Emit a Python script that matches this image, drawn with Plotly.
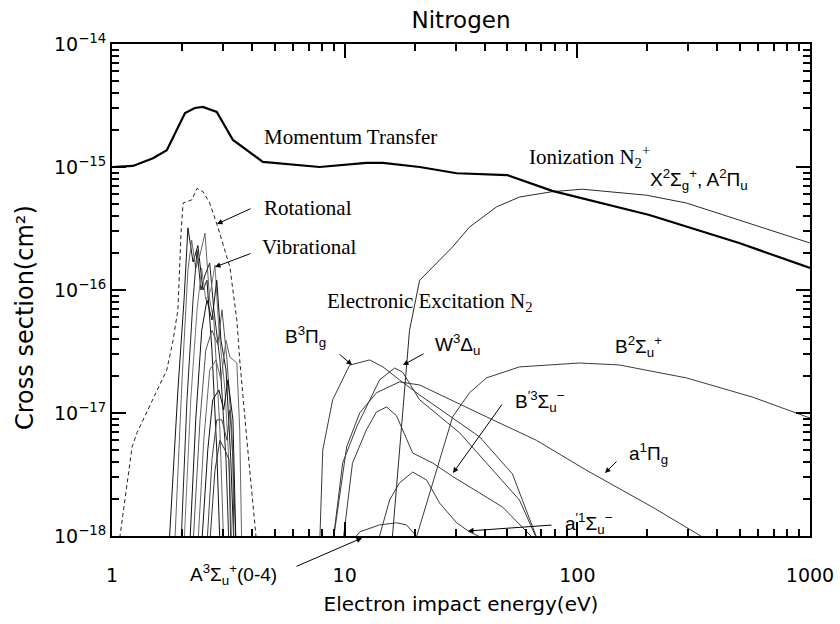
import plotly.graph_objects as go

# ---------------- data (energy in eV, cross section in cm^2) ----------------
mt_E = [1.0, 1.23, 1.5, 1.72, 2.06, 2.27, 2.46, 2.82, 3.31, 4.45, 7.8, 12.4, 14.6, 21.0, 30.3, 50.0, 78.0, 204.0, 496.0, 1000.0]
mt_sigma = [1.0e-15, 1.02e-15, 1.18e-15, 1.37e-15, 2.75e-15, 3.02e-15, 3.08e-15, 2.8e-15, 1.66e-15, 1.1e-15,
            1.0e-15, 1.08e-15, 1.08e-15, 1.0e-15, 8.9e-16, 8.6e-16, 6.4e-16, 4.07e-16, 2.41e-16, 1.51e-16]

rot_E = [1.07, 1.22, 1.28, 1.72, 1.83, 1.92, 1.98, 2.02, 2.20, 2.32, 2.46, 2.63, 2.85, 3.21, 3.44, 3.54, 3.80, 4.19]
rot_sigma = [8.5e-19, 5.3e-18, 6.9e-18, 2.24e-17, 3.9e-17, 6.9e-17, 2.9e-16, 5.1e-16, 5.4e-16, 6.7e-16,
             6.3e-16, 5.1e-16, 3.25e-16, 1.54e-16, 5.7e-17, 2.7e-17, 6.0e-18, 8.5e-19]

vib_E = [
    [1.76, 1.92, 2.04, 2.12, 2.23, 2.34, 2.46, 2.56, 2.69, 2.82, 2.91],
    [1.86, 2.00, 2.12, 2.20, 2.29, 2.39, 2.51, 2.63, 2.74, 2.91, 3.02],
    [1.98, 2.10, 2.23, 2.32, 2.41, 2.51, 2.63, 2.74, 2.91, 3.09, 3.18],
    [2.04, 2.18, 2.32, 2.43, 2.53, 2.66, 2.77, 2.88, 3.06, 3.21, 3.27],
    [2.16, 2.29, 2.43, 2.56, 2.69, 2.82, 2.94, 3.09, 3.24, 3.34],
    [2.23, 2.39, 2.53, 2.69, 2.85, 2.97, 3.12, 3.27, 3.41],
    [2.34, 2.48, 2.63, 2.80, 2.94, 3.09, 3.21, 3.44, 3.54, 3.61],
    [2.43, 2.58, 2.71, 2.88, 3.02, 3.15, 3.31, 3.41],
    [2.56, 2.69, 2.82, 2.97, 3.12, 3.21, 3.31, 3.34],
    [2.63, 2.77, 2.91, 3.06, 3.18, 3.24],
]
vib_sigma = [
    [8.5e-19, 1.54e-17, 8.3e-17, 3.2e-16, 1.69e-16, 2.3e-16, 1.0e-16, 1.2e-16, 3.2e-17, 5.0e-18, 8.5e-19],
    [8.5e-19, 1.86e-17, 1.45e-16, 2.55e-16, 1.5e-16, 1.93e-16, 2.9e-16, 8.3e-17, 5.7e-17, 7.3e-18, 8.5e-19],
    [8.5e-19, 1.28e-17, 8.3e-17, 2.1e-16, 1.0e-16, 1.32e-16, 1.66e-16, 6.9e-17, 2.7e-17, 4.2e-18, 8.5e-19],
    [8.5e-19, 1.28e-17, 6.9e-17, 1.5e-16, 8.3e-17, 1.0e-16, 1.6e-16, 4.7e-17, 1.54e-17, 2.85e-18, 8.5e-19],
    [8.5e-19, 8.8e-18, 4.7e-17, 8.3e-17, 5.7e-17, 1.2e-16, 3.9e-17, 2.24e-17, 4.2e-18, 8.5e-19],
    [8.5e-19, 8.8e-18, 3.25e-17, 4.7e-17, 3.6e-17, 6.9e-17, 2.7e-17, 7.3e-18, 8.5e-19],
    [8.5e-19, 6.0e-18, 2.24e-17, 2.7e-17, 1.86e-17, 3.9e-17, 2.85e-17, 2.55e-17, 7.3e-18, 8.5e-19],
    [8.5e-19, 5.0e-18, 1.28e-17, 1.54e-17, 1.06e-17, 1.86e-17, 8.8e-18, 8.5e-19],
    [8.5e-19, 4.2e-18, 8.8e-18, 8.8e-18, 6.0e-18, 1.06e-17, 4.2e-18, 8.5e-19],
    [8.5e-19, 3.4e-18, 6.0e-18, 5.0e-18, 4.2e-18, 8.5e-19],
]

ion_E = [15.8, 17.6, 19.0, 21.0, 29.1, 34.4, 44.9, 56.4, 78.0, 105.0, 198.0, 294.0, 496.0, 1000.0]
ion_sigma = [7.0e-19, 8.8e-18, 4.7e-17, 1.2e-16, 2.24e-16, 3.25e-16, 4.73e-16, 5.7e-16, 6.3e-16, 6.6e-16,
             5.9e-16, 5.1e-16, 3.7e-16, 2.41e-16]

b2su_E = [19.9, 24.1, 29.1, 34.4, 40.7, 56.4, 102.0, 151.0, 294.0, 564.0, 1000.0]
b2su_sigma = [8.5e-19, 2.85e-18, 9.3e-18, 1.46e-17, 1.93e-17, 2.37e-17, 2.55e-17, 2.46e-17, 1.93e-17, 1.35e-17, 9.1e-18]

b3pg_E = [7.81, 8.05, 8.88, 10.5, 12.8, 14.6, 17.2, 21.0, 38.0, 49.6, 52.6, 68.7]
b3pg_sigma = [8.5e-19, 5.0e-18, 1.28e-17, 2.45e-17, 2.70e-17, 2.37e-17, 1.86e-17, 1.40e-17, 6.4e-18, 3.6e-18, 3.2e-18, 8.5e-19]

w3du_E = [8.88, 9.80, 11.26, 14.13, 16.39, 17.74, 21.0, 31.2, 56.4, 68.7]
w3du_sigma = [8.5e-19, 3.92e-18, 7.7e-18, 1.86e-17, 2.32e-17, 2.15e-17, 1.28e-17, 6.9e-18, 1.96e-18, 8.5e-19]

a1pg_E = [8.88, 10.2, 11.6, 13.7, 17.2, 21.0, 40.7, 66.7, 109.0, 210.0, 380.0]
a1pg_sigma = [8.5e-19, 5.3e-18, 1.0e-17, 1.46e-17, 1.79e-17, 1.69e-17, 9.3e-18, 6.0e-18, 3.44e-18, 1.72e-18, 8.8e-19]

bp3su_E = [9.80, 10.8, 12.4, 13.7, 15.15, 16.7, 19.6, 23.9, 29.1, 47.7, 68.7]
bp3su_sigma = [8.5e-19, 3.9e-18, 7.3e-18, 1.02e-17, 1.12e-17, 9.5e-18, 4.73e-18, 3.92e-18, 3.05e-18, 1.72e-18, 8.5e-19]

ap1su_E = [13.86, 15.6, 17.2, 19.6, 22.5, 25.6, 30.3, 34.4, 40.7]
ap1su_sigma = [8.8e-19, 1.96e-18, 2.70e-18, 3.31e-18, 2.85e-18, 1.85e-18, 1.28e-18, 1.08e-18, 9.3e-19]

a3su_E = [10.5, 11.6, 14.1, 16.7, 18.45, 21.0, 21.6]
a3su_sigma = [8.5e-19, 1.08e-18, 1.23e-18, 1.28e-18, 1.23e-18, 9.3e-19, 8.5e-19]

x_tickvals = [1, 10, 100, 1000]
x_ticktext = ["1", "10", "100", "1000"]
y_tickvals = [1e-18, 1e-17, 1e-16, 1e-15, 1e-14]
y_ticktext = ["10<sup>−18</sup>", "10<sup>−17</sup>", "10<sup>−16</sup>", "10<sup>−15</sup>", "10<sup>−14</sup>"]
x_minor = [m * 10 ** d for d in range(0, 3) for m in range(2, 10)]
y_minor = [m * 10.0 ** d for d in range(-18, -14) for m in range(2, 10)]

# ---------------- figure ----------------
fig = go.Figure()


def add(E, s, color="#333333", width=1.0, dash="solid"):
    fig.add_trace(go.Scatter(x=E, y=s, mode="lines",
                             line=dict(color=color, width=width, dash=dash),
                             showlegend=False, hoverinfo="skip"))


add(rot_E, rot_sigma, color="#222222", width=1.0, dash="4px,3px")
vib_colors = ["#111111", "#666666", "#222222", "#777777", "#111111", "#555555", "#666666", "#111111", "#444444", "#333333"]
for i in range(len(vib_E)):
    add(vib_E[i], vib_sigma[i], color=vib_colors[i], width=1.0)

for E, s in [(b3pg_E, b3pg_sigma), (w3du_E, w3du_sigma), (a1pg_E, a1pg_sigma),
             (bp3su_E, bp3su_sigma), (ap1su_E, ap1su_sigma), (a3su_E, a3su_sigma),
             (b2su_E, b2su_sigma)]:
    add(E, s, color="#3a3a3a", width=1.0)
add(ion_E, ion_sigma, color="#2a2a2a", width=1.0)
add(mt_E, mt_sigma, color="#000000", width=2.2)

# empty trace that activates the overlay axes used for the minor ticks
fig.add_trace(go.Scatter(x=[], y=[], xaxis="x2", yaxis="y2", mode="lines",
                         showlegend=False, hoverinfo="skip"))

# plot area in pixels: x 112..810, y 44..536
L, R, T, B = 112, 810, 44, 536


def px(xp):
    return (xp - L) / (R - L)


def py(yp):
    return (B - yp) / (B - T)


serif = "Liberation Serif"
sans = "Liberation Sans"
labels = [
    ("Momentum Transfer", 262, 137, serif, 21),
    ("Rotational", 262, 208, serif, 21),
    ("Vibrational", 260, 247, serif, 21),
    ("Electronic Excitation N<sub>2</sub>", 325, 302, serif, 21),
    ("Ionization N<sub>2</sub><sup>+</sup>", 527, 157, serif, 21),
    ("X<sup>2</sup>Σ<sub>g</sub><sup>+</sup>, A<sup>2</sup>Π<sub>u</sub>", 648, 180, sans, 19),
    ("B<sup>3</sup>Π<sub>g</sub>", 283, 336, sans, 19),
    ("W<sup>3</sup>Δ<sub>u</sub>", 433, 344, sans, 19),
    ("B<sup>2</sup>Σ<sub>u</sub><sup>+</sup>", 613, 346, sans, 19),
    ("B<sup>′3</sup>Σ<sub>u</sub><sup>−</sup>", 513, 401, sans, 19),
    ("a<sup>1</sup>Π<sub>g</sub>", 627, 453, sans, 19),
    ("a<sup>′1</sup>Σ<sub>u</sub><sup>−</sup>", 563, 523, sans, 19),
    ("A<sup>3</sup>Σ<sub>u</sub><sup>+</sup>(0-4)", 188, 574, sans, 19),
]
annotations = []
for text, x0, y0, fam, size in labels:
    annotations.append(dict(text=text, x=px(x0), y=py(y0), xref="paper", yref="paper",
                            xanchor="left", yanchor="middle", showarrow=False,
                            font=dict(family=fam, size=size, color="black")))

# y-axis title (placed as rotated text, like the reference)
annotations.append(dict(text="Cross section(cm²)", x=px(25), y=py(318), xref="paper", yref="paper",
                        xanchor="center", yanchor="middle", textangle=-90, showarrow=False,
                        font=dict(family="DejaVu Sans", size=24, color="black")))

# arrows: tip (x,y) and tail (x,y) in pixels
arrows = [
    (217, 224, 252, 208),
    (215, 267, 252, 253),
    (352, 365, 338, 353),
    (403, 365, 425, 353),
    (453, 473, 503, 403),
    (605, 473, 618, 460),
    (468, 531, 553, 525),
    (362, 538, 295, 567),
]
for tx, ty, sx, sy in arrows:
    annotations.append(dict(text="", x=px(tx), y=py(ty), xref="paper", yref="paper",
                            ax=sx - tx, ay=sy - ty, axref="pixel", ayref="pixel",
                            showarrow=True, arrowhead=2, arrowsize=1.1, arrowwidth=1,
                            arrowcolor="black"))

tick_font = dict(family="DejaVu Sans", size=19, color="black")
title_font = dict(family="DejaVu Sans", size=20, color="black")
fig.update_layout(
    width=840, height=624,
    margin=dict(l=L, r=840 - R, t=T, b=624 - B, autoexpand=False),
    paper_bgcolor="white", plot_bgcolor="rgba(0,0,0,0)",
    title=dict(text="Nitrogen", x=0.5, xref="paper", xanchor="center",
               y=1 - 20 / 624, yref="container", yanchor="middle",
               font=dict(family="DejaVu Sans", size=23, color="black")),
    annotations=annotations,
    showlegend=False,
    xaxis=dict(
        type="log", range=[0, 3], showgrid=False, zeroline=False,
        showline=True, linecolor="black", linewidth=2, mirror="ticks",
        ticks="inside", ticklen=14, tickwidth=2, tickcolor="black",
        tickmode="array", tickvals=x_tickvals, ticktext=x_ticktext, tickfont=tick_font,
        ticklabelstandoff=21,
        title=dict(text="Electron impact energy(eV)", font=title_font, standoff=12),
        automargin=False,
    ),
    yaxis=dict(
        type="log", range=[-18, -14], showgrid=False, zeroline=False,
        showline=True, linecolor="black", linewidth=2, mirror="ticks",
        ticks="inside", ticklen=14, tickwidth=2, tickcolor="black",
        tickmode="array", tickvals=y_tickvals, ticktext=y_ticktext, tickfont=tick_font,
        automargin=False,
    ),
    xaxis2=dict(
        type="log", range=[0, 3], overlaying="x", anchor="y2", side="bottom",
        showgrid=False, zeroline=False, showline=True, linecolor="black", linewidth=2,
        mirror="ticks", ticks="inside", ticklen=7, tickwidth=1.5, tickcolor="black",
        tickmode="array", tickvals=x_minor, showticklabels=False, automargin=False,
    ),
    yaxis2=dict(
        type="log", range=[-18, -14], overlaying="y", anchor="x2", side="left",
        showgrid=False, zeroline=False, showline=True, linecolor="black", linewidth=2,
        mirror="ticks", ticks="inside", ticklen=7, tickwidth=1.5, tickcolor="black",
        tickmode="array", tickvals=y_minor, showticklabels=False, automargin=False,
    ),
)

fig.write_html("out.html", config={"displayModeBar": False},
               post_script="document.body.style.margin='0px';document.body.style.padding='0px';"
                           "document.body.style.overflow='hidden';")
